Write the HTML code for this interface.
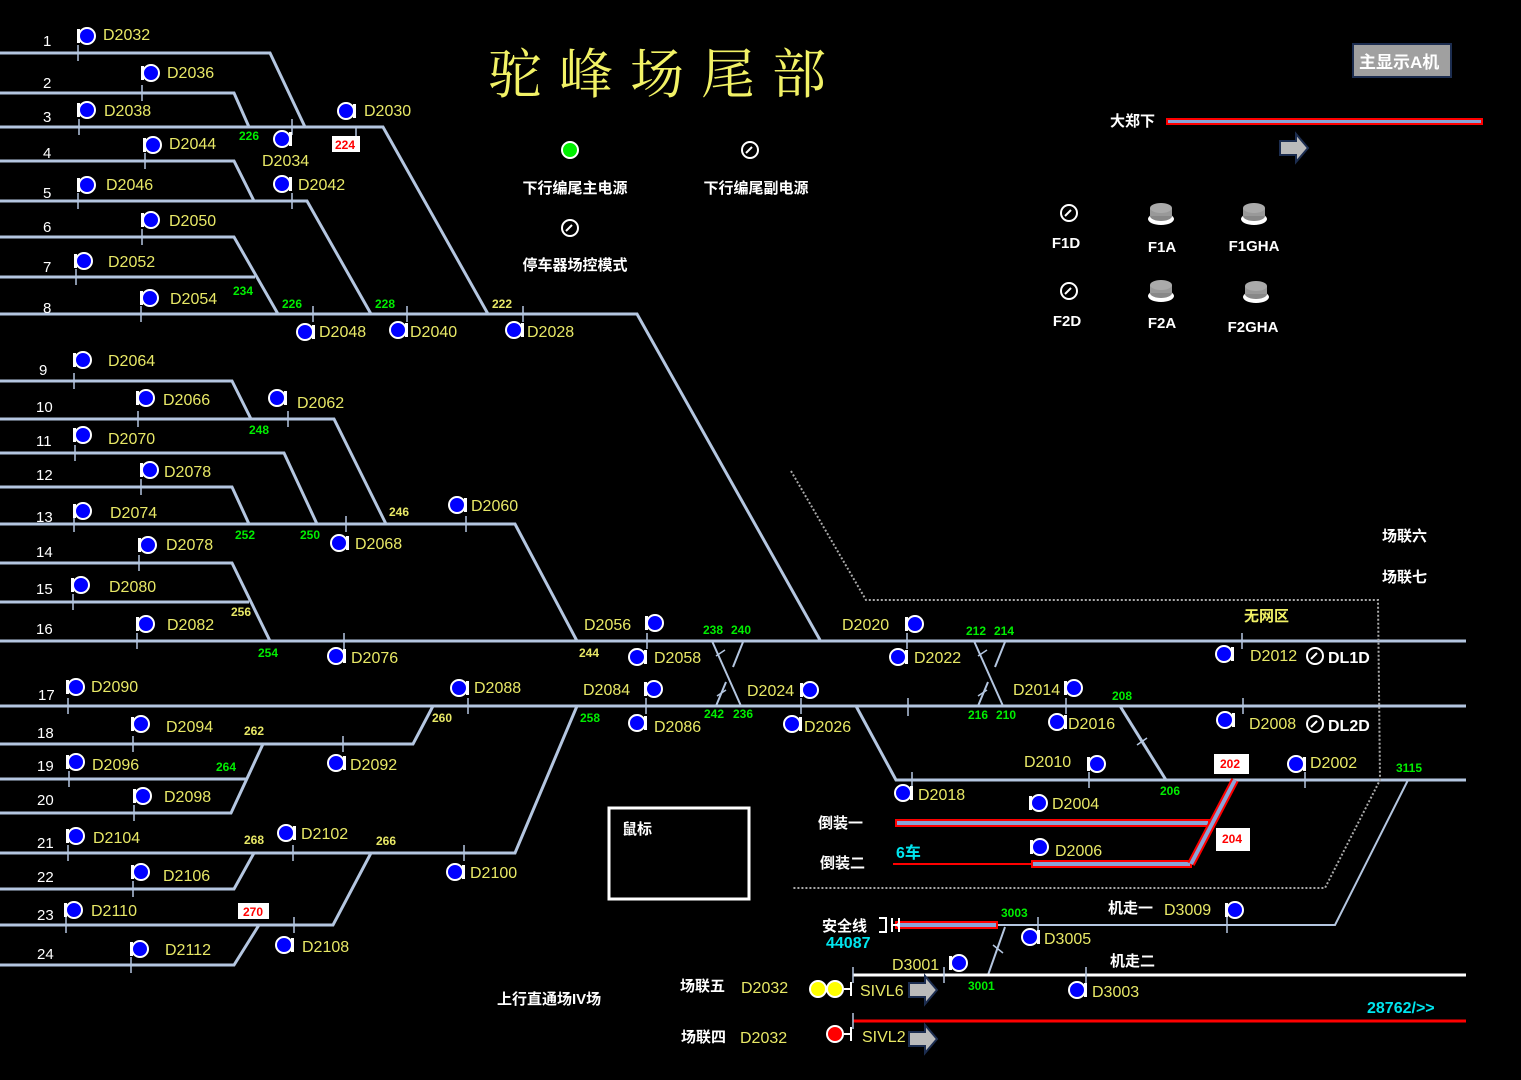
<!DOCTYPE html>
<html><head><meta charset="utf-8"><style>
html,body{margin:0;padding:0;background:#000;}
svg{display:block}
.y{fill:#e8e866;font-family:"Liberation Sans","Noto Sans CJK SC",sans-serif;font-size:16px}
.n{fill:#fff;font-family:"Liberation Sans",sans-serif;font-size:15px}
.g{fill:#00ee00;font-family:"Liberation Sans",sans-serif;font-size:12px;font-weight:bold}
.gy{fill:#e8e866;font-family:"Liberation Sans",sans-serif;font-size:12px;font-weight:bold}
.w{fill:#fff;font-family:"Liberation Sans","Noto Sans CJK SC",sans-serif;font-size:15px;font-weight:bold}
.c{fill:#00e5ee;font-family:"Liberation Sans",sans-serif;font-size:16px;font-weight:bold}
.t{stroke:#b4c6e0;stroke-width:3;fill:none}
.d{stroke:#b4c6e0;stroke-width:2;fill:none}
.k{stroke:#b4c6e0;stroke-width:1.5}
</style></head><body>
<svg width="1521" height="1080" viewBox="0 0 1521 1080" xmlns="http://www.w3.org/2000/svg">
<defs>
<g id="sL"><rect x="-10" y="-7" width="3" height="14" fill="#fff"/><circle r="8" fill="#0000ff" stroke="#fff" stroke-width="2"/></g>
<g id="sR"><rect x="7" y="-7" width="3" height="14" fill="#fff"/><circle r="8" fill="#0000ff" stroke="#fff" stroke-width="2"/></g>
<g id="clk"><circle r="8" fill="none" stroke="#fff" stroke-width="2"/><line x1="-4" y1="3" x2="2" y2="-3" stroke="#fff" stroke-width="2"/></g>
<g id="btn"><ellipse cx="0" cy="6" rx="13" ry="6" fill="#fff"/><ellipse cx="0" cy="3" rx="11" ry="5" fill="#888"/><rect x="-11" y="-5" width="22" height="8" fill="#999"/><ellipse cx="0" cy="-5" rx="11" ry="5" fill="#aaa"/></g>
<g id="arr"><path d="M0 -7 H16 V-14 L28 0 L16 14 V7 H0 Z" fill="#bbb" stroke="#1c2d50" stroke-width="2"/></g>
</defs>

<polyline class="t" points="0,53 270,53 305,127"/>
<polyline class="t" points="0,93 234,93 249,127"/>
<polyline class="t" points="0,127 383,127 488,314"/>
<polyline class="t" points="0,161 234,161 254,201"/>
<polyline class="t" points="0,201 307,201 371,314"/>
<polyline class="t" points="0,237 234,237 278,314"/>
<polyline class="t" points="0,277 255,277"/>
<polyline class="t" points="0,314 637,314 820,640"/>
<polyline class="t" points="0,381 232,381 251,419"/>
<polyline class="t" points="0,419 334,419 386,524"/>
<polyline class="t" points="0,453 284,453 317,524"/>
<polyline class="t" points="0,487 232,487 249,524"/>
<polyline class="t" points="0,524 515,524 577,641"/>
<polyline class="t" points="0,563 232,563 270,641"/>
<polyline class="t" points="0,602 249,602"/>
<polyline class="t" points="0,641 1466,641"/>
<polyline class="t" points="0,706 1466,706"/>
<polyline class="t" points="0,744 413,744 433,706"/>
<polyline class="t" points="0,779 246,779"/>
<polyline class="t" points="0,813 231,813 263,744"/>
<polyline class="t" points="0,853 515,853 577,706"/>
<polyline class="t" points="0,889 234,889 254,853"/>
<polyline class="t" points="0,925 333,925 371,853"/>
<polyline class="t" points="0,965 234,965 259,925"/>
<polyline class="t" points="856,706 896,780 1466,780"/>
<line class="t" x1="1120" y1="706" x2="1166" y2="780"/>
<polyline class="d" points="1408,780 1335,925 996,925"/>
<line class="d" x1="1005" y1="927" x2="988" y2="975"/>
<line class="k" x1="993" y1="945" x2="1003" y2="953"/>
<line class="d" x1="712" y1="641" x2="741" y2="706"/>
<line class="d" x1="743" y1="642" x2="733" y2="667"/>
<line class="d" x1="726" y1="682" x2="716" y2="706"/>
<line class="d" x1="974" y1="641" x2="1003" y2="706"/>
<line class="d" x1="1005" y1="642" x2="995" y2="667"/>
<line class="d" x1="988" y1="682" x2="978" y2="706"/>
<line class="k" x1="716" y1="656" x2="725" y2="650"/><line class="k" x1="717" y1="696" x2="726" y2="690"/>
<line class="k" x1="978" y1="656" x2="987" y2="650"/><line class="k" x1="978" y1="696" x2="987" y2="690"/>
<line class="k" x1="1137" y1="745" x2="1147" y2="738"/>
<g class="k">
<line x1="78" y1="45" x2="78" y2="61"/><line x1="142" y1="85" x2="142" y2="101"/><line x1="79" y1="119" x2="79" y2="135"/><line x1="292" y1="119" x2="292" y2="135"/><line x1="356" y1="127" x2="356" y2="140"/>
<line x1="145" y1="153" x2="145" y2="169"/><line x1="78" y1="193" x2="78" y2="209"/><line x1="292" y1="193" x2="292" y2="209"/><line x1="142" y1="229" x2="142" y2="245"/><line x1="76" y1="269" x2="76" y2="285"/>
<line x1="141" y1="306" x2="141" y2="322"/><line x1="313" y1="306" x2="313" y2="322"/><line x1="407" y1="306" x2="407" y2="322"/><line x1="523" y1="306" x2="523" y2="322"/>
<line x1="74" y1="373" x2="74" y2="389"/><line x1="138" y1="411" x2="138" y2="427"/><line x1="288" y1="411" x2="288" y2="427"/><line x1="75" y1="445" x2="75" y2="461"/><line x1="141" y1="479" x2="141" y2="495"/>
<line x1="74" y1="516" x2="74" y2="532"/><line x1="346" y1="516" x2="346" y2="532"/><line x1="466" y1="516" x2="466" y2="532"/><line x1="139" y1="555" x2="139" y2="571"/><line x1="73" y1="594" x2="73" y2="610"/>
<line x1="137" y1="633" x2="137" y2="649"/><line x1="344" y1="633" x2="344" y2="649"/><line x1="647" y1="633" x2="647" y2="649"/><line x1="907" y1="633" x2="907" y2="649"/><line x1="1242" y1="633" x2="1242" y2="649"/>
<line x1="68" y1="698" x2="68" y2="714"/><line x1="468" y1="698" x2="468" y2="714"/><line x1="646" y1="698" x2="646" y2="714"/><line x1="801" y1="698" x2="801" y2="714"/><line x1="908" y1="698" x2="908" y2="716"/><line x1="1066" y1="698" x2="1066" y2="714"/><line x1="1243" y1="698" x2="1243" y2="714"/>
<line x1="133" y1="736" x2="133" y2="752"/><line x1="343" y1="736" x2="343" y2="752"/><line x1="69" y1="771" x2="69" y2="787"/><line x1="134" y1="805" x2="134" y2="821"/>
<line x1="912" y1="772" x2="912" y2="788"/><line x1="1089" y1="772" x2="1089" y2="788"/><line x1="1305" y1="772" x2="1305" y2="788"/>
<line x1="68" y1="845" x2="68" y2="861"/><line x1="293" y1="845" x2="293" y2="861"/><line x1="464" y1="845" x2="464" y2="861"/><line x1="133" y1="881" x2="133" y2="897"/>
<line x1="66" y1="917" x2="66" y2="933"/><line x1="294" y1="917" x2="294" y2="933"/><line x1="131" y1="957" x2="131" y2="973"/>
<line x1="1038" y1="917" x2="1038" y2="933"/><line x1="1227" y1="917" x2="1227" y2="933"/>
</g>
<polyline points="791,471 866,600 1378,600 1380,780 1325,888 793,888" fill="none" stroke="#aaa" stroke-width="2" stroke-dasharray="2,2"/>
<rect x="896" y="820" width="313" height="6" fill="#8aa4d8" stroke="#f00" stroke-width="2"/>
<line x1="893" y1="864" x2="1032" y2="864" stroke="#f00" stroke-width="2"/>
<rect x="1032" y="861" width="159" height="6" fill="#8aa4d8" stroke="#f00" stroke-width="2"/>
<line x1="1191" y1="864" x2="1235" y2="780" stroke="#f00" stroke-width="8"/>
<line x1="1191" y1="864" x2="1235" y2="780" stroke="#8aa4d8" stroke-width="4"/>
<rect x="896" y="922" width="101" height="6" fill="#8aa4d8" stroke="#f00" stroke-width="2"/>
<path d="M879 918 H886 V932 H879 M892 918 V932 M892 925 H899 M899 918 V932" stroke="#fff" stroke-width="2" fill="none"/>
<rect x="1167" y="119" width="315" height="5" fill="#8aa4d8" stroke="#f00" stroke-width="2"/>
<line x1="853" y1="975" x2="1466" y2="975" stroke="#fff" stroke-width="3"/>
<line x1="853" y1="967" x2="853" y2="983" stroke="#b4c6e0" stroke-width="1.5"/>
<line x1="944" y1="967" x2="944" y2="983" stroke="#b4c6e0" stroke-width="1.5"/>
<line x1="1086" y1="967" x2="1086" y2="983" stroke="#b4c6e0" stroke-width="1.5"/>
<line x1="853" y1="1021" x2="1466" y2="1021" stroke="#f00" stroke-width="3"/>
<line x1="853" y1="1013" x2="853" y2="1029" stroke="#b4c6e0" stroke-width="1.5"/>

<g class="n">
<text x="43" y="46">1</text><text x="43" y="88">2</text><text x="43" y="122">3</text><text x="43" y="158">4</text><text x="43" y="198">5</text><text x="43" y="232">6</text><text x="43" y="272">7</text><text x="43" y="313">8</text>
<text x="39" y="375">9</text><text x="36" y="412">10</text><text x="36" y="446">11</text><text x="36" y="480">12</text><text x="36" y="522">13</text><text x="36" y="557">14</text><text x="36" y="594">15</text><text x="36" y="634">16</text>
<text x="38" y="700">17</text><text x="37" y="738">18</text><text x="37" y="771">19</text><text x="37" y="805">20</text><text x="37" y="848">21</text><text x="37" y="882">22</text><text x="37" y="920">23</text><text x="37" y="959">24</text>
</g>

<use href="#sL" x="87" y="36"/><use href="#sL" x="151" y="73"/><use href="#sL" x="87" y="110"/><use href="#sR" x="346" y="111"/>
<use href="#sL" x="153" y="145"/><use href="#sR" x="282" y="139"/><use href="#sL" x="87" y="185"/><use href="#sR" x="282" y="184"/>
<use href="#sL" x="151" y="220"/><use href="#sL" x="84" y="261"/><use href="#sL" x="150" y="298"/>
<use href="#sR" x="305" y="332"/><use href="#sR" x="398" y="330"/><use href="#sR" x="514" y="330"/>
<use href="#sL" x="83" y="360"/><use href="#sL" x="146" y="398"/><use href="#sR" x="277" y="398"/><use href="#sL" x="83" y="435"/>
<use href="#sL" x="150" y="470"/><use href="#sL" x="83" y="511"/><use href="#sR" x="457" y="505"/><use href="#sR" x="339" y="543"/>
<use href="#sL" x="148" y="545"/><use href="#sL" x="81" y="585"/><use href="#sL" x="146" y="624"/>
<use href="#sL" x="655" y="623"/><use href="#sR" x="336" y="656"/><use href="#sR" x="637" y="657"/><use href="#sL" x="915" y="624"/><use href="#sR" x="898" y="657"/>
<use href="#sR" x="1224" y="654"/>
<use href="#sL" x="76" y="687"/><use href="#sR" x="459" y="688"/><use href="#sL" x="654" y="689"/><use href="#sL" x="810" y="690"/><use href="#sL" x="1074" y="688"/>
<use href="#sL" x="141" y="724"/><use href="#sR" x="637" y="723"/><use href="#sR" x="792" y="724"/><use href="#sR" x="1057" y="722"/><use href="#sR" x="1225" y="720"/>
<use href="#sL" x="76" y="762"/><use href="#sR" x="336" y="763"/><use href="#sL" x="1097" y="764"/><use href="#sR" x="1296" y="764"/>
<use href="#sL" x="143" y="796"/><use href="#sR" x="903" y="793"/><use href="#sL" x="1039" y="803"/>
<use href="#sL" x="76" y="836"/><use href="#sR" x="286" y="833"/><use href="#sL" x="1040" y="847"/>
<use href="#sL" x="141" y="872"/><use href="#sR" x="455" y="872"/>
<use href="#sL" x="74" y="910"/><use href="#sL" x="1235" y="910"/><use href="#sL" x="140" y="949"/><use href="#sR" x="284" y="945"/>
<use href="#sR" x="1030" y="937"/><use href="#sL" x="959" y="963"/><use href="#sR" x="1077" y="990"/>
<rect x="1232" y="648" width="2" height="12" fill="#fff"/><rect x="1233" y="714" width="2" height="12" fill="#fff"/>
<circle cx="818" cy="989" r="8" fill="#ff0" stroke="#fff" stroke-width="2"/><circle cx="835" cy="989" r="8" fill="#ff0" stroke="#fff" stroke-width="2"/>
<path d="M844 989 H851 M851 982 V996" stroke="#fff" stroke-width="2"/>
<circle cx="835" cy="1034" r="8" fill="#f00" stroke="#fff" stroke-width="2"/>
<path d="M844 1034 H851 M851 1027 V1041" stroke="#fff" stroke-width="2"/>
<use href="#arr" x="909" y="990"/><use href="#arr" x="909" y="1039"/><use href="#arr" x="1280" y="148"/>

<g class="y">
<text x="103" y="40">D2032</text><text x="167" y="78">D2036</text><text x="104" y="116">D2038</text><text x="364" y="116">D2030</text>
<text x="169" y="149">D2044</text><text x="262" y="166">D2034</text><text x="106" y="190">D2046</text><text x="298" y="190">D2042</text>
<text x="169" y="226">D2050</text><text x="108" y="267">D2052</text><text x="170" y="304">D2054</text>
<text x="319" y="337">D2048</text><text x="410" y="337">D2040</text><text x="527" y="337">D2028</text>
<text x="108" y="366">D2064</text><text x="163" y="405">D2066</text><text x="297" y="408">D2062</text><text x="108" y="444">D2070</text>
<text x="164" y="477">D2078</text><text x="110" y="518">D2074</text><text x="471" y="511">D2060</text><text x="355" y="549">D2068</text>
<text x="166" y="550">D2078</text><text x="109" y="592">D2080</text><text x="167" y="630">D2082</text>
<text x="584" y="630">D2056</text><text x="351" y="663">D2076</text><text x="654" y="663">D2058</text><text x="842" y="630">D2020</text><text x="914" y="663">D2022</text>
<text x="1250" y="661">D2012</text>
<text x="91" y="692">D2090</text><text x="474" y="693">D2088</text><text x="583" y="695">D2084</text><text x="747" y="696">D2024</text><text x="1013" y="695">D2014</text>
<text x="166" y="732">D2094</text><text x="654" y="732">D2086</text><text x="804" y="732">D2026</text><text x="1068" y="729">D2016</text><text x="1249" y="729">D2008</text>
<text x="92" y="770">D2096</text><text x="350" y="770">D2092</text><text x="1024" y="767">D2010</text><text x="1310" y="768">D2002</text>
<text x="164" y="802">D2098</text><text x="918" y="800">D2018</text><text x="1052" y="809">D2004</text>
<text x="93" y="843">D2104</text><text x="301" y="839">D2102</text><text x="1055" y="856">D2006</text>
<text x="163" y="881">D2106</text><text x="470" y="878">D2100</text>
<text x="91" y="916">D2110</text><text x="1164" y="915">D3009</text><text x="165" y="955">D2112</text><text x="302" y="952">D2108</text>
<text x="1044" y="944">D3005</text><text x="892" y="970">D3001</text><text x="1092" y="997">D3003</text>
<text x="741" y="993">D2032</text><text x="860" y="996">SIVL6</text><text x="740" y="1043">D2032</text><text x="862" y="1042">SIVL2</text>
</g>
<g class="g">
<text x="239" y="140">226</text><text x="233" y="295">234</text><text x="282" y="308">226</text><text x="375" y="308">228</text>
<text x="249" y="434">248</text><text x="235" y="539">252</text><text x="300" y="539">250</text><text x="258" y="657">254</text>
<text x="703" y="634">238</text><text x="731" y="634">240</text><text x="704" y="718">242</text><text x="733" y="718">236</text>
<text x="580" y="722">258</text><text x="216" y="771">264</text>
<text x="966" y="635">212</text><text x="994" y="635">214</text><text x="968" y="719">216</text><text x="996" y="719">210</text>
<text x="1112" y="700">208</text><text x="1160" y="795">206</text><text x="1396" y="772">3115</text><text x="1001" y="917">3003</text><text x="968" y="990">3001</text>
</g>
<g class="gy">
<text x="492" y="308">222</text><text x="389" y="516">246</text><text x="231" y="616">256</text><text x="579" y="657">244</text>
<text x="432" y="722">260</text><text x="244" y="735">262</text><text x="244" y="844">268</text><text x="376" y="845">266</text>
</g>
<rect x="332" y="136" width="28" height="16" fill="#fff"/><text x="335" y="149" class="g" style="fill:#f00">224</text>
<rect x="238" y="903" width="31" height="16" fill="#fff"/><text x="243" y="916" class="g" style="fill:#f00">270</text>
<rect x="1214" y="754" width="35" height="20" fill="#fff"/><text x="1220" y="768" class="g" style="fill:#f00">202</text>
<rect x="1216" y="828" width="34" height="23" fill="#fff"/><text x="1222" y="843" class="g" style="fill:#f00">204</text>

<text x="488" y="93" style="fill:#f2f266;font-family:'Noto Serif CJK SC',serif;font-size:54px;letter-spacing:17px">驼峰场尾部</text>
<circle cx="570" cy="150" r="8" fill="#00ee00" stroke="#fff" stroke-width="2"/>
<use href="#clk" x="750" y="150"/><use href="#clk" x="570" y="228"/>
<g class="w" text-anchor="middle">
<text x="575" y="193">下行编尾主电源</text><text x="756" y="193">下行编尾副电源</text><text x="575" y="270">停车器场控模式</text>
<text x="1066" y="248">F1D</text><text x="1162" y="252">F1A</text><text x="1254" y="251">F1GHA</text>
<text x="1067" y="326">F2D</text><text x="1162" y="328">F2A</text><text x="1253" y="332">F2GHA</text>
</g>
<use href="#clk" x="1069" y="213"/><use href="#clk" x="1069" y="291"/>
<use href="#btn" x="1161" y="213"/><use href="#btn" x="1254" y="213"/><use href="#btn" x="1161" y="290"/><use href="#btn" x="1256" y="291"/>
<rect x="1353" y="44" width="98" height="33" fill="#a0a0a0" stroke="#1c2d50" stroke-width="2"/>
<text x="1359" y="68" class="w" style="font-size:17px">主显示A机</text>
<g class="w">
<text x="1110" y="126">大郑下</text>
<text x="1382" y="541">场联六</text><text x="1382" y="582">场联七</text>
<text x="818" y="828">倒装一</text><text x="820" y="868">倒装二</text>
<text x="822" y="931">安全线</text><text x="1108" y="913">机走一</text><text x="1110" y="966">机走二</text>
<text x="680" y="991">场联五</text><text x="681" y="1042">场联四</text><text x="497" y="1004">上行直通场IV场</text>
<text x="1328" y="663" style="font-size:16px">DL1D</text><text x="1328" y="731" style="font-size:16px">DL2D</text>
</g>
<use href="#clk" x="1315" y="656"/><use href="#clk" x="1315" y="724"/>
<text x="1244" y="621" class="w" style="fill:#f2f266">无网区</text>
<rect x="609" y="808" width="140" height="91" fill="none" stroke="#fff" stroke-width="3"/>
<text x="622" y="834" class="w">鼠标</text>
<text x="896" y="858" class="c" style="font-family:'Liberation Sans','Noto Sans CJK SC',sans-serif">6车</text>
<text x="826" y="948" class="c">44087</text>
<text x="1367" y="1013" class="c">28762/&gt;&gt;</text>
</svg>
</body></html>
